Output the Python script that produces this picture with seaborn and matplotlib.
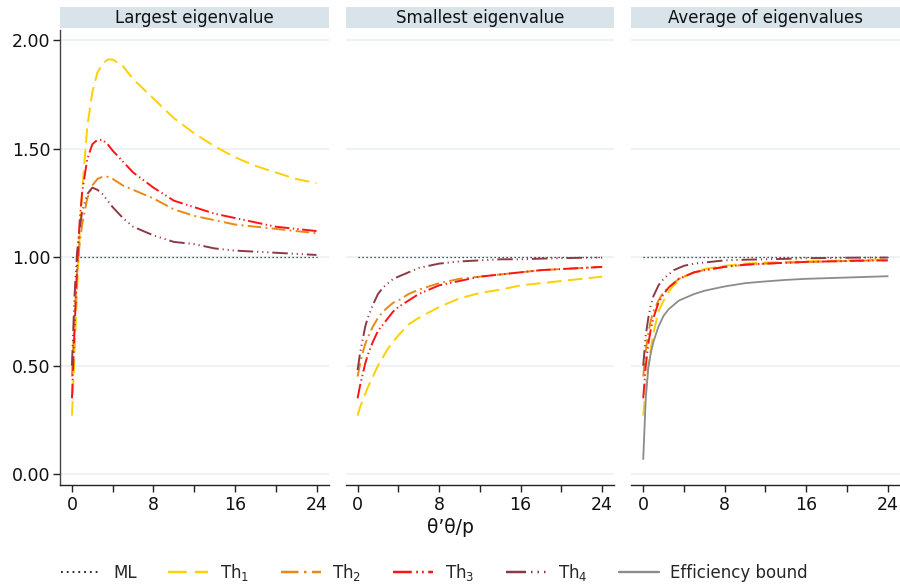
import numpy as np
import pandas as pd
import seaborn as sns
import matplotlib.pyplot as plt
from matplotlib.lines import Line2D
from matplotlib.patches import Rectangle
from matplotlib.ticker import FixedLocator

sns.set_theme(style="white")
plt.rcParams['font.family'] = ['DejaVu Sans']

# ---- data ----
x = [0, 0.25, 0.5, 0.75, 1, 1.5, 2, 2.5, 3, 3.5, 4, 5, 6, 8, 10, 12, 14, 16, 18, 20, 22, 24]

ml = [1.0] * len(x)

# largest eigenvalue
th1_large = [0.27, 0.55, 0.85, 1.10, 1.30, 1.60, 1.76, 1.85, 1.89, 1.91, 1.91, 1.88, 1.82, 1.73, 1.64, 1.57, 1.51, 1.46, 1.42, 1.39, 1.36, 1.34]
th2_large = [0.45, 0.72, 0.92, 1.06, 1.15, 1.27, 1.33, 1.36, 1.37, 1.37, 1.36, 1.33, 1.31, 1.27, 1.22, 1.19, 1.17, 1.15, 1.14, 1.13, 1.12, 1.11]
th3_large = [0.35, 0.66, 0.95, 1.16, 1.30, 1.45, 1.52, 1.54, 1.54, 1.52, 1.49, 1.44, 1.39, 1.32, 1.26, 1.23, 1.20, 1.18, 1.16, 1.14, 1.13, 1.12]
th4_large = [0.50, 0.82, 1.02, 1.13, 1.21, 1.29, 1.32, 1.31, 1.29, 1.26, 1.23, 1.18, 1.14, 1.10, 1.07, 1.06, 1.04, 1.03, 1.025, 1.02, 1.015, 1.01]

# smallest eigenvalue
th1_small = [0.27, 0.31, 0.34, 0.37, 0.40, 0.45, 0.50, 0.54, 0.58, 0.61, 0.64, 0.69, 0.72, 0.77, 0.81, 0.835, 0.85, 0.87, 0.88, 0.89, 0.90, 0.91]
th2_small = [0.45, 0.51, 0.56, 0.60, 0.63, 0.68, 0.72, 0.75, 0.77, 0.79, 0.80, 0.83, 0.85, 0.88, 0.90, 0.91, 0.92, 0.93, 0.94, 0.945, 0.95, 0.955]
th3_small = [0.35, 0.41, 0.46, 0.51, 0.55, 0.61, 0.66, 0.69, 0.72, 0.75, 0.77, 0.80, 0.83, 0.87, 0.89, 0.91, 0.92, 0.93, 0.94, 0.945, 0.95, 0.955]
th4_small = [0.48, 0.56, 0.62, 0.68, 0.72, 0.78, 0.83, 0.86, 0.88, 0.90, 0.91, 0.93, 0.95, 0.97, 0.98, 0.985, 0.99, 0.99, 0.993, 0.995, 0.997, 0.998]

# average of eigenvalues
th1_avg = [0.27, 0.40, 0.50, 0.58, 0.65, 0.75, 0.80, 0.84, 0.87, 0.89, 0.91, 0.93, 0.945, 0.96, 0.97, 0.975, 0.978, 0.98, 0.983, 0.985, 0.988, 0.99]
th2_avg = [0.45, 0.57, 0.65, 0.71, 0.75, 0.80, 0.84, 0.86, 0.88, 0.90, 0.91, 0.93, 0.94, 0.955, 0.965, 0.97, 0.974, 0.977, 0.98, 0.982, 0.984, 0.985]
th3_avg = [0.35, 0.50, 0.60, 0.67, 0.72, 0.79, 0.83, 0.86, 0.88, 0.90, 0.91, 0.93, 0.94, 0.955, 0.965, 0.97, 0.974, 0.978, 0.98, 0.982, 0.984, 0.985]
th4_avg = [0.50, 0.64, 0.72, 0.78, 0.82, 0.87, 0.90, 0.92, 0.94, 0.95, 0.96, 0.97, 0.975, 0.985, 0.988, 0.99, 0.992, 0.995, 0.996, 0.997, 0.998, 0.998]
eff_bound = [0.07, 0.35, 0.49, 0.56, 0.61, 0.68, 0.73, 0.76, 0.78, 0.80, 0.81, 0.83, 0.845, 0.865, 0.88, 0.888, 0.895, 0.90, 0.903, 0.906, 0.909, 0.912]

panel_titles = ['Largest eigenvalue', 'Smallest eigenvalue', 'Average of eigenvalues']
series_names = ['ML', 'Th1', 'Th2', 'Th3', 'Th4', 'Efficiency bound']
legend_labels = ['ML', 'Th$_{1}$', 'Th$_{2}$', 'Th$_{3}$', 'Th$_{4}$', 'Efficiency bound']

panels = [
    {'ML': ml, 'Th1': th1_large, 'Th2': th2_large, 'Th3': th3_large, 'Th4': th4_large},
    {'ML': ml, 'Th1': th1_small, 'Th2': th2_small, 'Th3': th3_small, 'Th4': th4_small},
    {'ML': ml, 'Th1': th1_avg, 'Th2': th2_avg, 'Th3': th3_avg, 'Th4': th4_avg, 'Efficiency bound': eff_bound},
]

colors = {'ML': '#1a1a1a', 'Th1': '#FFD000', 'Th2': '#E8891A', 'Th3': '#FF1414',
          'Th4': '#8E3A45', 'Efficiency bound': '#8C8C8C'}
dashes = {'ML': (1, 2.2), 'Th1': (7.5, 3.3), 'Th2': (7, 2.2, 1, 2.2),
          'Th3': (7.5, 1.8, 0.7, 1.6, 0.7, 1.8), 'Th4': (8, 2, 0.6, 2, 0.6, 2, 0.6, 2),
          'Efficiency bound': ''}
widths = {'ML': 0.9, 'Th1': 1.4, 'Th2': 1.4, 'Th3': 1.4, 'Th4': 1.4, 'Efficiency bound': 1.3}

fig, axes = plt.subplots(1, 3, figsize=(9, 5.88), dpi=100, sharey=True)
fig.subplots_adjust(left=0.0667, right=1.0, bottom=0.175, top=0.949, wspace=0.063)

for ax, title, pdata in zip(axes, panel_titles, panels):
    rows = []
    for name, vals in pdata.items():
        rows.append(pd.DataFrame({'x': x, 'value': vals, 'series': name}))
    df = pd.concat(rows, ignore_index=True)
    order = [s for s in series_names if s in pdata]
    sns.lineplot(data=df, x='x', y='value', hue='series', style='series', size='series',
                 hue_order=order, style_order=order, size_order=order,
                 palette=colors, dashes=dashes, sizes=widths, legend=False, ax=ax)

    ax.set_xlim(-1.17, 25.2)
    ax.set_ylim(-0.05, 2.046)
    ax.set_yticks([0, 0.5, 1, 1.5, 2])
    ax.set_yticklabels(['0.00', '0.50', '1.00', '1.50', '2.00'])
    ax.set_xticks([0, 8, 16, 24])
    ax.xaxis.set_minor_locator(FixedLocator([4, 12, 20]))
    ax.grid(axis='y', color='#EAF1F3', linewidth=1.2)
    ax.set_axisbelow(True)
    ax.set_xlabel('')
    ax.set_ylabel('')
    for s in ['top', 'right']:
        ax.spines[s].set_visible(False)
    ax.spines['bottom'].set_color('#222222')
    ax.spines['bottom'].set_linewidth(1.0)
    ax.tick_params(axis='x', which='both', bottom=True, length=5, width=1, color='#222222',
                   labelsize=12.5, pad=3, labelcolor='#111111')

    # strip header
    ax.add_patch(Rectangle((0, 1.004), 1, 0.046, transform=ax.transAxes,
                           facecolor='#D8E4EA', edgecolor='none', clip_on=False))
    ax.text(0.5, 1.027, title, transform=ax.transAxes, ha='center', va='center',
            fontsize=12, color='#111111')

axes[0].spines['left'].set_color('#444444')
axes[0].spines['left'].set_linewidth(1.0)
axes[0].tick_params(axis='y', left=True, length=5, width=1, color='#222222',
                    labelsize=12.5, labelcolor='#111111', pad=2)
for ax in axes[1:]:
    ax.spines['left'].set_visible(False)
    ax.tick_params(axis='y', left=False, labelleft=False)

fig.text(0.5, 0.103, "θ’θ/p", ha='center', va='center', fontsize=13.5, color='#111111')

handles = [Line2D([0], [0], color=colors[s], linewidth=widths[s] + 0.4,
                  linestyle=(0, dashes[s]) if dashes[s] else '-') for s in series_names]
fig.legend(handles, legend_labels, loc='center', bbox_to_anchor=(0.483, 0.027), ncol=6,
           frameon=False, fontsize=12, handlelength=2.4, columnspacing=1.9, handletextpad=0.7)

fig.savefig('out.png', dpi=100)
